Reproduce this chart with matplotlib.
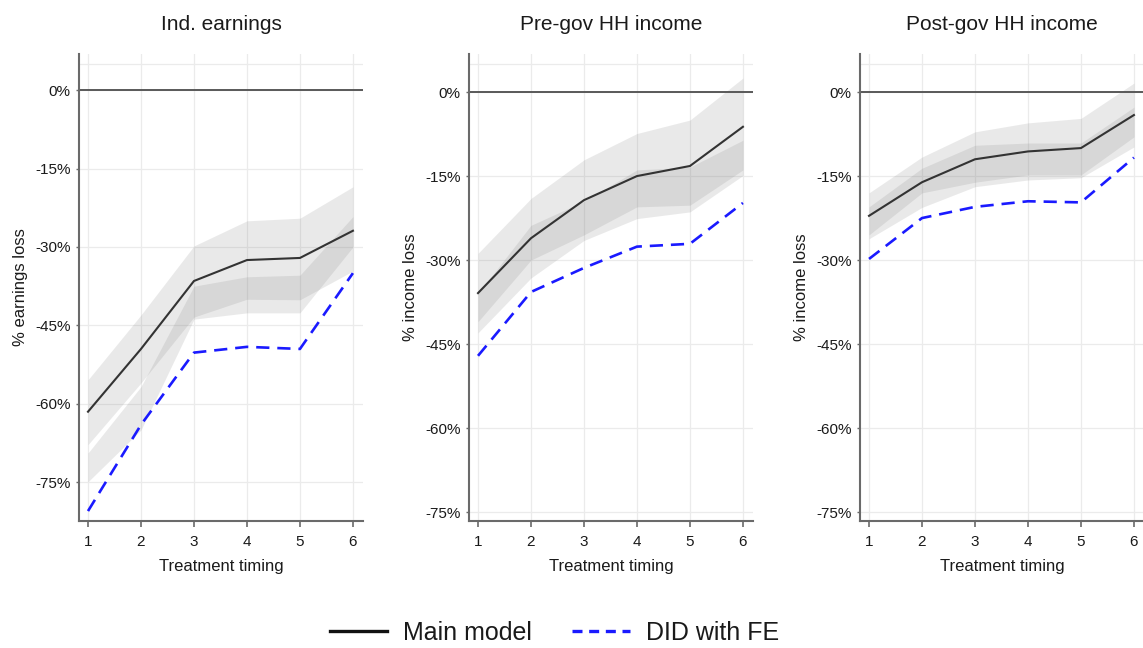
import matplotlib
matplotlib.use("Agg")
import matplotlib.pyplot as plt
from matplotlib.lines import Line2D
from matplotlib.ticker import FuncFormatter

plt.rcParams['font.family'] = ['Liberation Sans', 'DejaVu Sans']

timing = [1, 2, 3, 4, 5, 6]
panel_titles = ["Ind. earnings", "Pre-gov HH income", "Post-gov HH income"]
y_labels = ["% earnings loss", "% income loss", "% income loss"]
y_ticks = [0, -15, -30, -45, -60, -75]
legend_labels = ["Main model", "DID with FE"]

# Individual earnings
earn_main = [-61.5, -49.5, -36.5, -32.5, -32.1, -26.9]
earn_did = [-80.5, -64.0, -50.2, -49.1, -49.5, -35.0]
earn_ci_hi = [-55.4, -43.0, -29.8, -25.0, -24.5, -18.5]
earn_ci_lo = [-67.8, -56.0, -43.4, -40.0, -40.1, -34.6]
earn_alt_hi = [-69.4, -56.7, -37.5, -35.7, -35.4, -24.2]
earn_alt_lo = [-74.9, -65.0, -43.8, -42.6, -42.6, -30.0]

# Pre-government household income
pre_main = [-35.9, -26.1, -19.3, -15.0, -13.2, -6.2]
pre_did = [-47.1, -35.7, -31.4, -27.6, -27.1, -19.8]
pre_ci_hi = [-28.8, -19.0, -12.1, -7.4, -5.0, 2.5]
pre_ci_lo = [-43.0, -33.2, -26.5, -22.6, -21.4, -14.9]
pre_alt_hi = [-36.0, -23.8, -19.5, -13.9, -13.4, -8.6]
pre_alt_lo = [-41.0, -30.0, -25.5, -20.5, -20.2, -13.9]

# Post-government household income
post_main = [-22.1, -16.1, -12.0, -10.6, -10.0, -4.1]
post_did = [-29.8, -22.5, -20.5, -19.5, -19.7, -11.7]
post_ci_hi = [-18.0, -11.6, -7.1, -5.5, -4.7, 1.6]
post_ci_lo = [-26.2, -20.6, -16.9, -15.7, -15.3, -9.8]
post_alt_hi = [-20.5, -13.6, -9.5, -9.1, -9.1, -2.7]
post_alt_lo = [-25.5, -18.0, -16.1, -14.8, -14.8, -8.0]

panels = [
    (earn_main, earn_did, earn_ci_hi, earn_ci_lo, earn_alt_hi, earn_alt_lo, (-82.4, 6.9)),
    (pre_main, pre_did, pre_ci_hi, pre_ci_lo, pre_alt_hi, pre_alt_lo, (-76.6, 6.8)),
    (post_main, post_did, post_ci_hi, post_ci_lo, post_alt_hi, post_alt_lo, (-76.6, 6.8)),
]

W, H = 1143, 648
fig = plt.figure(figsize=(W / 100, H / 100), dpi=100)

lefts = [79, 469, 860]
ax_w, ax_top, ax_bot = 284, 54, 521

main_color = '#333333'
did_color = '#1a1aff'
band_color = (0.5, 0.5, 0.5)
grid_color = '#ebebeb'
spine_color = '#6a6a6a'
text_color = '#1a1a1a'

pct = FuncFormatter(lambda v, p: f"{v:.0f}%")

for i, (main, did, ci_hi, ci_lo, alt_hi, alt_lo, ylim) in enumerate(panels):
    ax = fig.add_axes([lefts[i] / W, (H - ax_bot) / H, ax_w / W, (ax_bot - ax_top) / H])
    ax.set_xlim(0.83, 6.19)
    ax.set_ylim(*ylim)

    # grid
    for x in timing:
        ax.axvline(x, color=grid_color, lw=0.9, zorder=0)
    for y in y_ticks + [5]:
        ax.axhline(y, color=grid_color, lw=0.9, zorder=0)

    # confidence bands
    ax.fill_between(timing, ci_lo, ci_hi, color=band_color, alpha=0.17, lw=0, zorder=1)
    ax.fill_between(timing, alt_lo, alt_hi, color=band_color, alpha=0.17, lw=0, zorder=1)

    ax.axhline(0, color='#595959', lw=1.4, zorder=2)

    ax.plot(timing, main, color=main_color, lw=1.5, zorder=3)
    ax.plot(timing, did, color=did_color, lw=1.9, dashes=(5, 3), zorder=3)

    ax.set_xticks(timing)
    ax.set_yticks(y_ticks)
    ax.yaxis.set_major_formatter(pct)
    ax.tick_params(axis='x', length=4, width=1.2, color=spine_color, labelsize=11,
                   pad=6, labelcolor=text_color)
    ax.tick_params(axis='y', length=2, width=1.0, color=spine_color, labelsize=11,
                   pad=4, labelcolor=text_color)

    for s in ['top', 'right']:
        ax.spines[s].set_visible(False)
    for s in ['left', 'bottom']:
        ax.spines[s].set_color(spine_color)
        ax.spines[s].set_linewidth(1.5)

    ax.set_xlabel("Treatment timing", fontsize=12, labelpad=7, color=text_color)
    ax.set_ylabel(y_labels[i], fontsize=12, labelpad=5, color=text_color)
    ax.set_title(panel_titles[i], fontsize=15, pad=17.5, color=text_color)

handles = [
    Line2D([0], [0], color='#111111', lw=2.4),
    Line2D([0], [0], color=did_color, lw=2.4, dashes=(3, 2)),
]
fig.legend(handles, legend_labels, loc='center', bbox_to_anchor=(0.485, 0.023),
           ncol=2, frameon=False, fontsize=18, handlelength=2.3,
           handletextpad=0.65, columnspacing=1.6, labelcolor=text_color)

fig.savefig("out.png", dpi=100, facecolor='white')
